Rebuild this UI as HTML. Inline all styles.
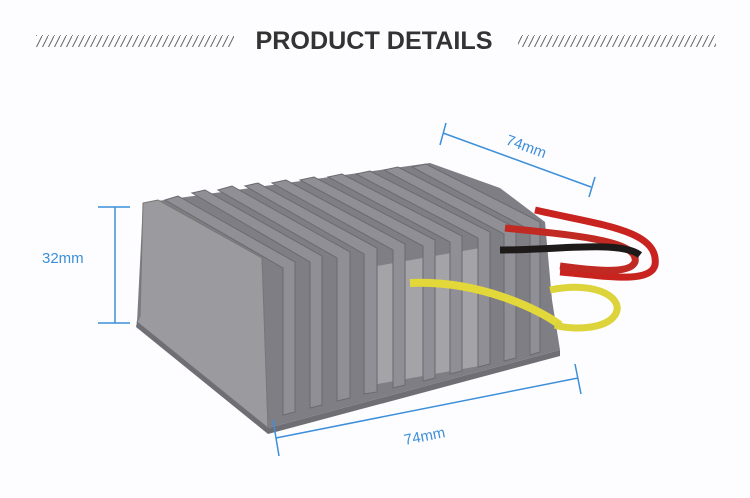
<!DOCTYPE html>
<html><head><style>body{margin:0;background:#fdfdff;}svg{display:block}</style></head><body>
<svg width="750" height="498" viewBox="0 0 750 498" xmlns="http://www.w3.org/2000/svg" font-family="Liberation Sans, sans-serif">
<defs>
<pattern id="h" width="6" height="12" patternUnits="userSpaceOnUse"><line x1="0" y1="12" x2="6" y2="0" stroke="#666" stroke-width="1"/></pattern>
</defs>
<rect x="36" y="35" width="198" height="12" fill="url(#h)"/>
<rect x="518" y="35" width="198" height="12" fill="url(#h)"/>
<text x="374" y="49" text-anchor="middle" font-size="25" font-weight="bold" fill="#333" textLength="237" lengthAdjust="spacingAndGlyphs">PRODUCT DETAILS</text>

<!-- product body -->
<polygon points="143,203 430,163 500,188 545,222 552,300 560,350 268,428 137,322" fill="#7e7e84"/>
<polygon points="365,268 480,248 485,365 372,385" fill="#a3a3a8"/>
<g fill="#8f8f95" stroke="#6a6a70" stroke-width="1">
<polygon points="165,200 178,196 295,262 295,412 283,415 283,268"/>
<polygon points="192,193 205,190 322,256 322,405 310,408 310,262"/>
<polygon points="218,190 232,186 350,252 350,398 337,401 337,258"/>
<polygon points="245,186 258,183 377,248 377,392 364,394 364,254"/>
<polygon points="272,183 286,180 405,244 405,385 393,388 393,250"/>
<polygon points="300,180 314,177 435,240 435,378 423,381 423,246"/>
<polygon points="328,177 342,174 462,236 462,371 450,374 450,242"/>
<polygon points="356,174 370,171 490,232 490,364 478,367 478,238"/>
<polygon points="384,170 398,167 516,228 516,358 504,361 504,234"/>
<polygon points="412,167 426,164 540,222 540,352 530,355 530,230"/>
</g>
<polygon points="143,203 158,200 262,258 268,428 137,322 140,316" fill="#9a9a9f" stroke="#777" stroke-width="1"/>
<polygon points="137,322 268,428 560,350 560,356 268,434 136,327" fill="#6e6e74"/>
<!-- wires -->
<path d="M535,210 C600,225 660,230 655,265 C650,285 600,275 560,272" stroke="#c8231f" stroke-width="7" fill="none"/>
<path d="M505,228 C570,235 640,240 635,262 C630,275 590,270 560,266" stroke="#c02a22" stroke-width="7" fill="none"/>
<path d="M500,250 C560,250 620,240 640,255" stroke="#1e1a1a" stroke-width="7" fill="none"/>
<path d="M410,283 C480,280 540,310 560,325" stroke="#e2d83a" stroke-width="8" fill="none"/>
<path d="M550,290 C600,280 625,300 615,315 C605,330 570,330 555,325" stroke="#dcd43a" stroke-width="7" fill="none"/>
<!-- dimensions -->
<g stroke="#3d8fd9" stroke-width="1.5" fill="none">
<line x1="115" y1="207" x2="115" y2="323"/><line x1="98" y1="207" x2="130" y2="207"/><line x1="98" y1="323" x2="130" y2="323"/>
<line x1="443" y1="133" x2="591" y2="187"/><line x1="446" y1="123" x2="440" y2="145"/><line x1="595" y1="177" x2="589" y2="197"/>
<line x1="276" y1="438" x2="578" y2="378"/><line x1="273" y1="420" x2="279" y2="456"/><line x1="575" y1="364" x2="581" y2="394"/>
</g>
<g fill="#3d8fd9" font-size="15">
<text x="42" y="263">32mm</text>
<text x="505" y="144" transform="rotate(20 505 144)">74mm</text>
<text x="405" y="445" transform="rotate(-11 405 445)">74mm</text>
</g>
</svg>
</body></html>
